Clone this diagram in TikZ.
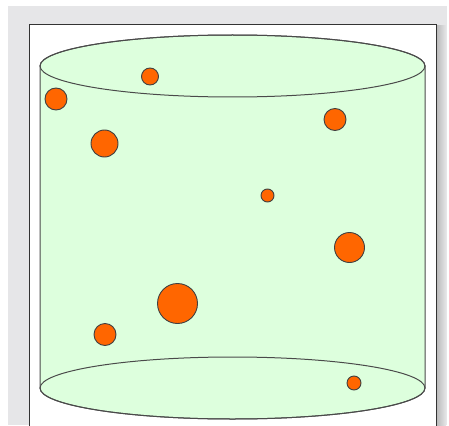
\documentclass[tikz,border=0pt]{standalone}
\usepackage{xcolor}
\usepackage{tikz}
\usetikzlibrary{positioning}
\definecolor{pgGray}{HTML}{E6E6E8}
\definecolor{cyFill}{HTML}{DDFFDD}
\definecolor{cyLine}{HTML}{4A4A4A}
\definecolor{ptOrange}{HTML}{FF6600}

\begin{document}
\begin{tikzpicture}[x=1pt, y=-1pt,
  particle/.style={circle, draw=black!75, fill=ptOrange, line width=0.9pt, inner sep=0pt}]
  \useasboundingbox (0,0) rectangle (449,425);
  % page and panel
  \fill[pgGray] (8,6) rectangle (447,425);
  \shade[left color=black!28, right color=pgGray] (436,26) rectangle (446,425);
  \filldraw[fill=white, draw=black!80, line width=0.8pt] (29,24) rectangle (436,430);
  % cylinder
  \filldraw[fill=cyFill, draw=cyLine, line width=1pt]
    (40,66) -- (40,388) arc(180:0:192.5 and 31) -- (425,66) arc(0:-180:192.5 and 31) -- cycle;
  \draw[cyLine, line width=1pt] (232.5,66) ellipse (192.5 and 31);
  \draw[cyLine, line width=1pt] (232.5,388) ellipse (192.5 and 31);
  % particles
  \foreach \px/\py/\r [count=\i] in {56/99/11, 150/76.5/8.5, 104.5/143.5/13.5,
      335/119.5/11, 267.5/195.5/6.5, 349.5/247.5/15, 177.5/303.5/20,
      105/334.5/11, 354/383/7}
    \node[particle, minimum size=2*\r pt] (p\i) at (\px,\py) {};
\end{tikzpicture}
\end{document}
